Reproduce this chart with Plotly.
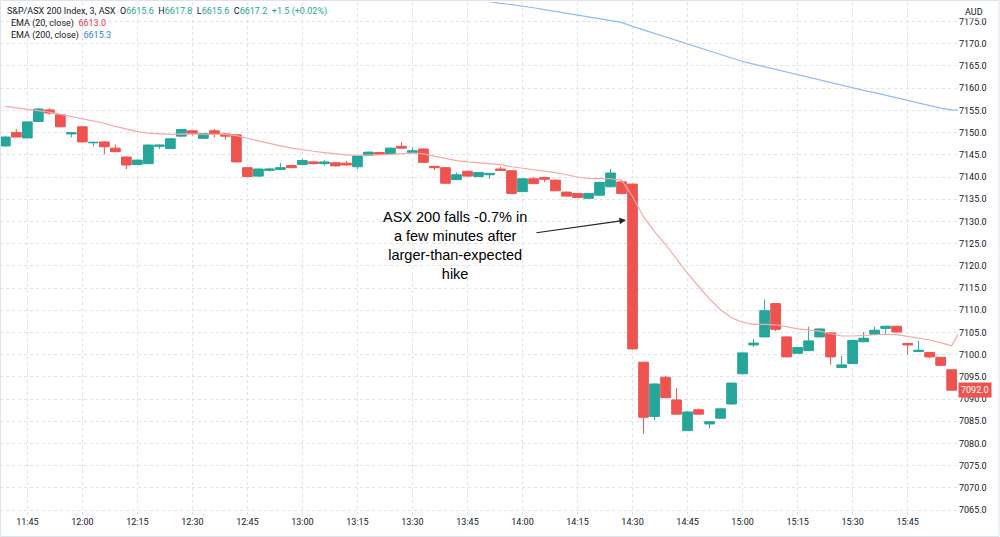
import plotly.graph_objects as go
import pandas as pd

# ---------------- data ----------------
start_time = "2022-05-03 11:39"
n_candles = 87
times = pd.date_range(start_time, periods=n_candles + 1, freq="3min")

opens = [7147.0, 7150.0, 7148.8, 7152.5, 7155.1, 7154.0, 7149.7, 7151.3, 7147.7, 7147.9,
         7146.5, 7144.5, 7142.8, 7143.0, 7146.9, 7146.4, 7149.2, 7150.4, 7148.7, 7150.4,
         7149.7, 7149.5, 7142.1, 7140.2, 7141.5, 7141.7, 7142.6, 7142.8, 7143.4, 7143.0,
         7143.2, 7143.1, 7142.3, 7144.9, 7145.5, 7145.2, 7146.9, 7145.5, 7146.3, 7142.4,
         7142.1, 7139.4, 7141.3, 7140.1, 7140.5, 7141.8, 7141.4, 7136.7, 7139.6, 7139.9,
         7139.3, 7136.6, 7136.3, 7135.2, 7135.9, 7137.8, 7138.9, 7138.4, 7098.3, 7086.1,
         7094.9, 7089.8, 7082.9, 7087.6, 7084.4, 7085.7, 7088.9, 7095.7, 7102.2, 7104.0,
         7111.5, 7104.0, 7100.3, 7100.9, 7104.0, 7104.9, 7097.1, 7098.0, 7102.9, 7104.6,
         7105.9, 7106.4, 7102.5, 7100.7, 7100.5, 7099.4, 7096.6]
highs = [7149.2, 7150.8, 7152.5, 7155.5, 7155.5, 7154.1, 7150.0, 7151.4, 7147.9, 7148.0,
         7147.3, 7144.6, 7143.9, 7147.3, 7147.3, 7148.7, 7150.8, 7150.5, 7149.9, 7150.8,
         7149.8, 7149.6, 7142.2, 7141.9, 7142.1, 7143.1, 7142.7, 7144.1, 7143.5, 7143.8,
         7143.3, 7143.6, 7144.8, 7145.7, 7145.6, 7146.6, 7147.9, 7146.6, 7146.4, 7142.5,
         7142.2, 7141.0, 7141.4, 7141.1, 7140.9, 7142.3, 7141.5, 7139.7, 7140.0, 7140.0,
         7139.4, 7136.7, 7136.4, 7136.4, 7138.9, 7141.8, 7139.4, 7138.5, 7098.4, 7093.5,
         7095.2, 7092.5, 7087.2, 7087.9, 7085.0, 7087.9, 7093.7, 7100.5, 7103.6, 7112.4,
         7111.6, 7104.1, 7101.7, 7106.3, 7105.9, 7105.0, 7099.7, 7103.3, 7105.1, 7106.3,
         7106.5, 7106.5, 7102.6, 7103.1, 7100.6, 7099.5, 7096.7]
lows = [7146.8, 7149.0, 7148.7, 7152.4, 7154.0, 7151.2, 7148.9, 7147.8, 7146.9, 7145.1,
        7145.6, 7141.8, 7142.7, 7142.9, 7146.3, 7146.3, 7149.1, 7149.3, 7148.6, 7148.9,
        7148.4, 7143.3, 7140.0, 7140.1, 7141.2, 7141.6, 7142.0, 7142.7, 7142.9, 7142.6,
        7142.4, 7142.6, 7141.8, 7144.8, 7145.0, 7145.1, 7146.4, 7145.4, 7143.2, 7141.6,
        7138.5, 7139.3, 7140.1, 7140.0, 7139.6, 7141.4, 7136.2, 7136.6, 7138.4, 7138.9,
        7136.8, 7135.6, 7135.3, 7135.1, 7135.8, 7137.7, 7136.2, 7101.2, 7082.2, 7085.3,
        7090.2, 7086.5, 7082.8, 7086.5, 7083.4, 7085.6, 7088.8, 7095.6, 7101.7, 7103.9,
        7105.3, 7099.4, 7100.2, 7100.8, 7103.9, 7097.7, 7097.0, 7097.9, 7102.8, 7104.5,
        7104.7, 7105.0, 7100.0, 7100.6, 7099.1, 7097.5, 7091.9]
closes = [7149.0, 7149.0, 7152.4, 7155.3, 7154.4, 7151.3, 7149.95, 7147.9, 7147.8, 7146.8,
          7145.7, 7142.7, 7143.8, 7147.2, 7147.2, 7148.6, 7150.7, 7149.8, 7149.8, 7149.7,
          7149.2, 7143.4, 7140.1, 7141.8, 7141.8, 7142.1, 7142.1, 7143.7, 7143.0, 7143.4,
          7142.5, 7142.7, 7144.7, 7145.6, 7145.1, 7146.5, 7146.5, 7145.9, 7143.3, 7142.1,
          7138.6, 7140.5, 7140.2, 7141.0, 7140.8, 7141.5, 7136.3, 7139.6, 7138.5, 7139.5,
          7136.9, 7135.7, 7135.4, 7136.3, 7138.8, 7140.9, 7136.3, 7101.3, 7085.9, 7093.4,
          7090.3, 7086.6, 7087.1, 7086.6, 7084.9, 7087.8, 7093.6, 7100.4, 7102.6, 7109.9,
          7105.7, 7099.5, 7101.6, 7103.1, 7105.8, 7099.5, 7097.7, 7103.2, 7103.7, 7105.5,
          7106.4, 7105.1, 7102.2, 7101.0, 7099.5, 7097.6, 7092.0]

ema20 = [7155.9, 7155.6, 7155.3, 7155.0, 7154.6, 7154.1, 7153.6, 7153.0, 7152.6, 7152.1,
         7151.4, 7150.8, 7150.2, 7149.9, 7149.7, 7149.6, 7149.7, 7149.7, 7149.7, 7149.7,
         7149.6, 7149.3, 7148.7, 7148.1, 7147.5, 7147.0, 7146.5, 7146.1, 7145.8, 7145.5,
         7145.2, 7145.0, 7144.9, 7144.9, 7145.0, 7145.1, 7145.3, 7145.4, 7145.2, 7144.7,
         7144.1, 7143.7, 7143.4, 7143.2, 7143.0, 7142.8, 7142.3, 7142.0, 7141.7, 7141.4,
         7141.0, 7140.5, 7140.0, 7139.7, 7139.6, 7139.6, 7139.3, 7135.6, 7131.0, 7127.7,
         7124.8, 7121.6, 7118.3, 7115.4, 7112.5, 7110.1, 7108.3, 7107.3, 7106.8, 7106.8,
         7106.7, 7106.3, 7105.8, 7105.6, 7105.3, 7104.7, 7104.2, 7104.2, 7104.3, 7104.5,
         7104.6, 7104.5, 7104.1, 7103.8, 7103.3, 7102.7, 7102.0, 7106.4]

ema200_start = 40
ema200 = [7181.0, 7180.6, 7180.2, 7179.8, 7179.5, 7179.1, 7178.8, 7178.5, 7178.1, 7177.7,
          7177.3, 7176.9, 7176.5, 7176.1, 7175.7, 7175.3, 7174.8, 7173.9, 7173.1, 7172.4,
          7171.6, 7170.8, 7170.0, 7169.1, 7168.3, 7167.5, 7166.7, 7166.0, 7165.4, 7164.8,
          7164.2, 7163.6, 7163.0, 7162.4, 7161.8, 7161.2, 7160.6, 7160.0, 7159.5, 7159.0,
          7158.4, 7157.9, 7157.3, 7156.7, 7156.1, 7155.5, 7155.1, 7155.0]

last_price = 7092.0
y_ticks = [7065 + 5 * i for i in range(23)]

UP = "#26a69a"
DOWN = "#ef5350"
GRID = "#e0e3eb"
TXT = "#131722"
FONT = "Roboto"

fig = go.Figure()

fig.add_trace(go.Scatter(
    x=times[ema200_start:], y=ema200, mode="lines",
    line=dict(color="#8fbdf2", width=1.2), hoverinfo="skip", showlegend=False))

fig.add_trace(go.Scatter(
    x=times, y=ema20, mode="lines",
    line=dict(color="#f6a8a8", width=1.2), hoverinfo="skip", showlegend=False))

fig.add_trace(go.Candlestick(
    x=times[:n_candles], open=opens, high=highs, low=lows, close=closes,
    increasing=dict(line=dict(color=UP, width=1), fillcolor=UP),
    decreasing=dict(line=dict(color=DOWN, width=1), fillcolor=DOWN),
    whiskerwidth=0, showlegend=False))

fig.update_layout(
    width=1000, height=537,
    margin=dict(l=0, r=42, t=2, b=22),
    paper_bgcolor="white", plot_bgcolor="white",
    font=dict(family=FONT, size=9, color=TXT),
    boxgap=0.12, boxgroupgap=0.0,
    showlegend=False,
    xaxis=dict(
        type="date",
        range=["2022-05-03 11:37:33", "2022-05-03 15:58:44"],
        rangeslider=dict(visible=False),
        tick0="2022-05-03 11:45", dtick=15 * 60 * 1000,
        tickformat="%H:%M",
        showgrid=True, gridcolor=GRID, griddash="dot", gridwidth=1,
        zeroline=False, showline=False, ticks="",
        tickfont=dict(family=FONT, size=9, color=TXT),
    ),
    yaxis=dict(
        side="right",
        range=[7063.9, 7179.4],
        tickmode="array", tickvals=y_ticks,
        ticktext=[f"{v:.1f}" for v in y_ticks],
        showgrid=True, gridcolor=GRID, griddash="dot", gridwidth=1,
        zeroline=False, showline=False, ticks="",
        tickfont=dict(family=FONT, size=9, color=TXT),
    ),
)

# frame around the whole chart
fig.add_shape(type="rect", xref="paper", yref="paper",
              x0=0.0005, x1=999 / 958, y0=(515 - 536.5) / 513, y1=(515 - 0.5) / 513,
              line=dict(color=GRID, width=1), fillcolor="rgba(0,0,0,0)", layer="above")

# header legend
def px_y(py):
    return (515 - py) / 513

hdr = ("S&amp;P/ASX 200 Index, 3, ASX  "
       f"O<span style='color:{UP}'>6615.6</span>  "
       f"H<span style='color:{UP}'>6617.8</span>  "
       f"L<span style='color:{UP}'>6615.6</span>  "
       f"C<span style='color:{UP}'>6617.2</span>  "
       f"<span style='color:{UP}'>+1.5 (+0.02%)</span>")
fig.add_annotation(xref="paper", yref="paper", x=5 / 958, y=px_y(11), xanchor="left",
                   yanchor="middle", text=hdr, showarrow=False,
                   font=dict(family=FONT, size=9, color=TXT))
fig.add_annotation(xref="paper", yref="paper", x=9 / 958, y=px_y(23), xanchor="left",
                   yanchor="middle",
                   text=f"EMA (20, close)  <span style='color:#f23645'>6613.0</span>",
                   showarrow=False, font=dict(family=FONT, size=9, color=TXT))
fig.add_annotation(xref="paper", yref="paper", x=9 / 958, y=px_y(35), xanchor="left",
                   yanchor="middle",
                   text=f"EMA (200, close)  <span style='color:#2f7fe6'>6615.3</span>",
                   showarrow=False, font=dict(family=FONT, size=9, color=TXT))

# currency label
fig.add_annotation(xref="paper", yref="paper", x=963 / 958, y=px_y(12), xanchor="left",
                   yanchor="middle", text="AUD", showarrow=False, bgcolor="white",
                   font=dict(family=FONT, size=9, color=TXT))

# last price label
fig.add_annotation(xref="paper", yref="y", x=1.0, y=last_price, xanchor="left",
                   yanchor="middle", text=f"{last_price:.1f}", showarrow=False,
                   bgcolor=DOWN, borderpad=2, font=dict(family=FONT, size=9, color="white"))

# callout
fig.add_annotation(x="2022-05-03 13:41:36", y=7124.6, xref="x", yref="y",
                   text="ASX 200 falls -0.7% in<br>a few minutes after<br>larger-than-expected<br>hike",
                   showarrow=False, align="center",
                   font=dict(family="Liberation Sans", size=14.5, color="black"))
fig.add_annotation(x="2022-05-03 14:28:13", y=7130.3, xref="x", yref="y",
                   ax="2022-05-03 14:03:24", ay=7127.4, axref="x", ayref="y",
                   text="", showarrow=True, arrowhead=2, arrowsize=1.1, arrowwidth=1.2,
                   arrowcolor="#222222")

fig.write_html("out.html")
